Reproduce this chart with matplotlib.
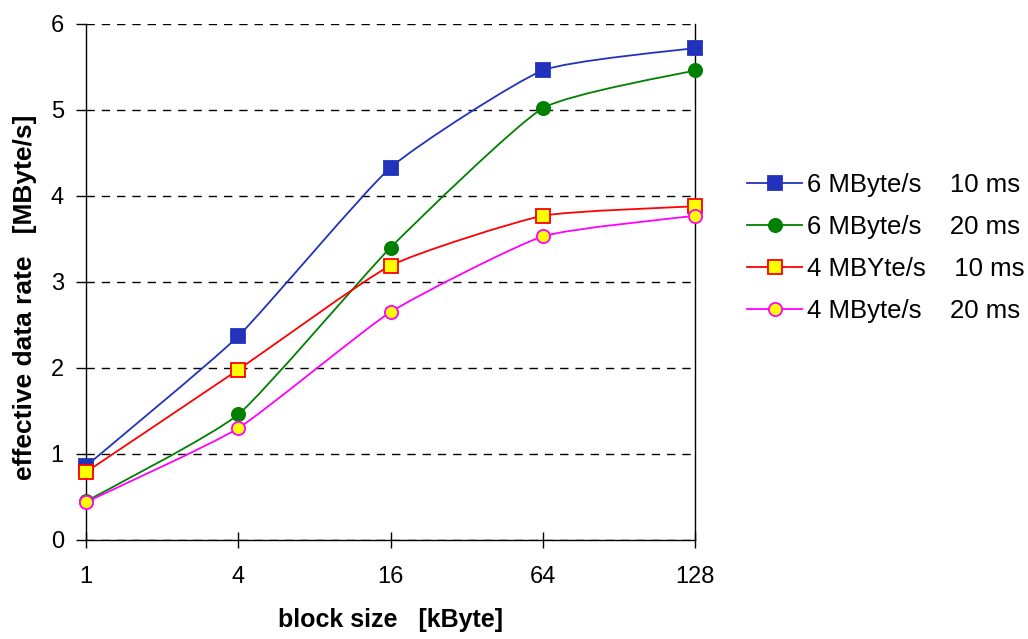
import matplotlib
matplotlib.use("Agg")
import matplotlib.pyplot as plt
from matplotlib.path import Path
from matplotlib.patches import PathPatch
from matplotlib.lines import Line2D

categories = ["1", "4", "16", "64", "128"]
series_labels = ["6 MByte/s    10 ms", "6 MByte/s    20 ms",
                 "4 MBYte/s    10 ms", "4 MByte/s    20 ms"]
blue_6_10 = [0.86, 2.37, 4.33, 5.46, 5.72]
green_6_20 = [0.45, 1.46, 3.40, 5.02, 5.46]
red_4_10 = [0.79, 1.98, 3.19, 3.77, 3.88]
magenta_4_20 = [0.44, 1.30, 2.65, 3.53, 3.77]
y_ticks = [0, 1, 2, 3, 4, 5, 6]

plt.rcParams['font.family'] = ['Liberation Sans', 'DejaVu Sans']

fig = plt.figure(figsize=(10.28, 6.39), dpi=100)
ax = fig.add_axes([86/1028, 1-540/639, (695-86)/1028, (540-24)/639])

styles = [
    dict(color="#2233BB", marker="s", mfc="#2233BB", mec="#2233BB"),
    dict(color="#008000", marker="o", mfc="#008000", mec="#008000"),
    dict(color="#FF0000", marker="s", mfc="#FFFF00", mec="#FF0000"),
    dict(color="#FF00FF", marker="o", mfc="#FFFF00", mec="#FF00FF"),
]
data = [blue_6_10, green_6_20, red_4_10, magenta_4_20]
xs = list(range(len(categories)))

TENSION = 1 / 12


def smooth_path(x, y):
    pts = list(zip(x, y))
    n = len(pts)
    verts = [pts[0]]
    codes = [Path.MOVETO]
    for i in range(n - 1):
        p0 = pts[i - 1] if i > 0 else pts[i]
        p1 = pts[i]
        p2 = pts[i + 1]
        p3 = pts[i + 2] if i + 2 < n else pts[i + 1]
        c1 = (p1[0] + (p2[0] - p0[0]) * TENSION, p1[1] + (p2[1] - p0[1]) * TENSION)
        c2 = (p2[0] - (p3[0] - p1[0]) * TENSION, p2[1] - (p3[1] - p1[1]) * TENSION)
        verts += [c1, c2, p2]
        codes += [Path.CURVE4] * 3
    return Path(verts, codes)


handles = []
for vals, st, lab in zip(data, styles, series_labels):
    patch = PathPatch(smooth_path(xs, vals), facecolor="none",
                      edgecolor=st["color"], lw=1.3, zorder=3)
    ax.add_patch(patch)
    ax.plot(xs, vals, linestyle="none", marker=st["marker"], ms=9.5,
            mfc=st["mfc"], mec=st["mec"], mew=1.3, zorder=4, clip_on=False)
    handles.append(Line2D([], [], color=st["color"], lw=1.3, marker=st["marker"],
                          ms=9.5, mfc=st["mfc"], mec=st["mec"], mew=1.3, label=lab))

ax.set_xlim(0, 4)
ax.set_ylim(0, 6)
ax.set_xticks(xs)
ax.set_xticklabels(categories)
ax.set_yticks(y_ticks)
ax.yaxis.grid(True, color="black", linestyle=(0, (6, 5)), lw=1.0)
ax.set_axisbelow(True)
ax.spines["top"].set_visible(False)
for s in ["left", "right", "bottom"]:
    ax.spines[s].set_linewidth(1.0)
ax.tick_params(axis="y", direction="out", length=7, width=1.0, pad=9, labelsize=17)
ax.tick_params(axis="x", direction="inout", length=12, width=1.0, pad=13, labelsize=17)

ax.set_xlabel("block size   [kByte]", fontsize=18, fontweight="bold", labelpad=14)
ax.set_ylabel("effective data rate   [MByte/s]", fontsize=19, fontweight="bold")
ax.yaxis.set_label_coords(-0.080, 0.471)

leg = fig.legend(handles=handles, loc="upper left", bbox_to_anchor=(0.717, 0.746),
                 frameon=False, fontsize=18.5, handlelength=2.14, handletextpad=0.2,
                 labelspacing=0.71, borderaxespad=0)

fig.savefig("out.png", dpi=100)
